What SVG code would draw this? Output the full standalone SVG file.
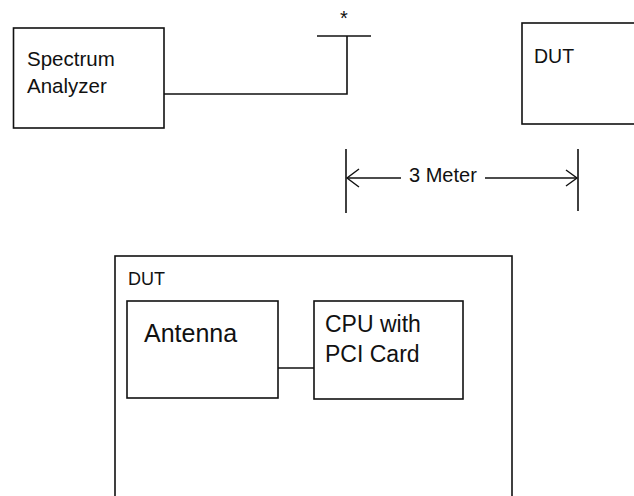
<svg xmlns="http://www.w3.org/2000/svg" width="634" height="496" viewBox="0 0 634 496">
  <style>
    .box { fill: #fff; stroke: #111; stroke-width: 1.6; }
    .ln { fill: none; stroke: #111; stroke-width: 1.6; }
    .ah { fill: none; stroke: #111; stroke-width: 1.4; }
    text { font-family: "Liberation Sans", Arial, sans-serif; fill: #111; }
  </style>
  <rect width="634" height="496" fill="#fff"/>

  <g id="dut-outer">
    <rect class="box" x="115" y="256" width="397" height="260"/>
    <text x="128" y="285" font-size="18">DUT</text>
  </g>

  <g id="spectrum-analyzer">
    <rect class="box" x="13.5" y="28" width="150.5" height="100"/>
    <text x="27" y="66" font-size="20.5">Spectrum</text>
    <text x="27" y="93" font-size="20.5">Analyzer</text>
  </g>

  <g id="antenna-mast">
    <line class="ln" x1="317" y1="36" x2="371" y2="36"/>
    <text x="344" y="25" font-size="20" text-anchor="middle">*</text>
  </g>

  <g id="dut-top">
    <rect class="box" x="522" y="23" width="130" height="101"/>
    <text x="534" y="63" font-size="19.5">DUT</text>
  </g>

  <g id="antenna">
    <rect class="box" x="127" y="301" width="151" height="97"/>
    <text x="144" y="342" font-size="25">Antenna</text>
  </g>

  <g id="cpu">
    <rect class="box" x="314" y="301" width="149" height="98"/>
    <text x="325" y="332" font-size="23">CPU with</text>
    <text x="325" y="362" font-size="23">PCI Card</text>
  </g>

  <g id="connectors">
    <polyline class="ln" points="164,94 347,94 347,36"/>
    <line class="ln" x1="278" y1="368" x2="314" y2="368"/>
  </g>

  <g id="dimension">
    <line class="ln" x1="346" y1="149" x2="346" y2="213"/>
    <line class="ln" x1="578" y1="149" x2="578" y2="211"/>
    <line class="ln" x1="347" y1="178" x2="401" y2="178"/>
    <line class="ln" x1="485" y1="178" x2="577" y2="178"/>
    <polyline class="ah" points="359,169 347,178 359,187"/>
    <polyline class="ah" points="566,170 577,178 566,186"/>
    <text x="409" y="182" font-size="20">3 Meter</text>
  </g>
</svg>
